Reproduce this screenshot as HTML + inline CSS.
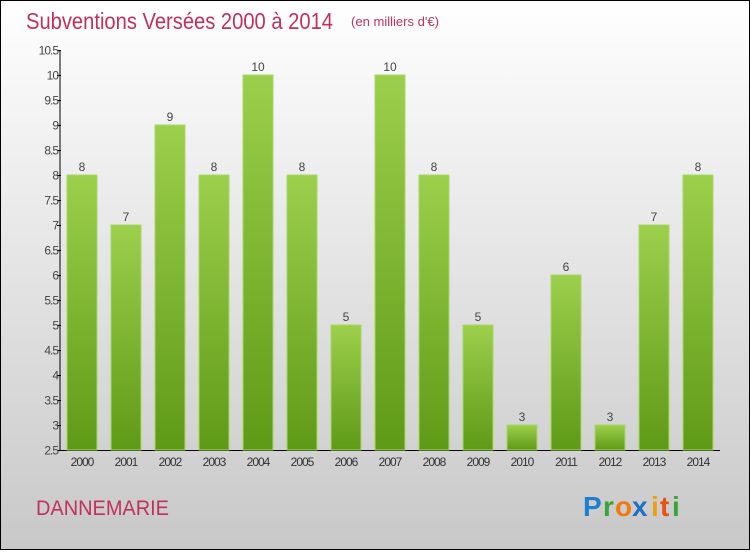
<!DOCTYPE html>
<html><head><meta charset="utf-8"><style>
html,body{margin:0;padding:0;}
body{width:750px;height:550px;overflow:hidden;font-family:"Liberation Sans",sans-serif;}
</style></head><body>
<svg id="chart" width="750" height="550" xmlns="http://www.w3.org/2000/svg">
<defs>
<linearGradient id="bg" x1="0" y1="0" x2="0" y2="1"><stop offset="0" stop-color="#ffffff"/><stop offset="1" stop-color="#c8c8c8"/></linearGradient>
<linearGradient id="bar" x1="0" y1="0" x2="0" y2="1"><stop offset="0" stop-color="#9ccf4c"/><stop offset="1" stop-color="#5f9a16"/></linearGradient>
</defs>
<rect x="0.5" y="0.5" width="749" height="549" fill="url(#bg)" stroke="#000" stroke-width="1"/>
<text x="26" y="29" font-size="23" fill="#c0315e" font-family="Liberation Sans,sans-serif" textLength="307" lengthAdjust="spacingAndGlyphs">Subventions Versées 2000 à 2014</text>
<text x="351" y="26" font-size="13" fill="#c0315e" textLength="88" lengthAdjust="spacingAndGlyphs">(en milliers d'€)</text>
<g id="axes"></g>
<g id="bars"></g>
<text x="36" y="515" font-size="21" fill="#c0315e" textLength="133" lengthAdjust="spacingAndGlyphs">DANNEMARIE</text>
<g font-size="28" font-weight="bold" font-family="Liberation Sans,sans-serif">
<text x="583" y="516" fill="#1e7fd0">P</text><text x="603" y="516" fill="#3aa33a">r</text><text x="615" y="516" fill="#f07a10">o</text><text x="632" y="516" fill="#1e6fc8">x</text><text x="651" y="516" fill="#e8a010">i</text><text x="660" y="516" fill="#e85010">t</text><text x="672" y="516" fill="#3aa33a">i</text>
</g>
</svg>
<script>
const categories=["2000","2001","2002","2003","2004","2005","2006","2007","2008","2009","2010","2011","2012","2013","2014"];
const values=[8,7,9,8,10,8,5,10,8,5,3,6,3,7,8];
const yTicks=["2.5","3","3.5","4","4.5","5","5.5","6","6.5","7","7.5","8","8.5","9","9.5","10","10.5"];
const NS="http://www.w3.org/2000/svg";
const yMin=2.5,yMax=10.5,plotTop=50,plotBottom=450;
function y(v){return plotBottom-(v-yMin)/(yMax-yMin)*(plotBottom-plotTop);}
function x(i){return 82+i*44;}
function mk(tag,attrs,parent){const e=document.createElementNS(NS,tag);for(const k in attrs)e.setAttribute(k,attrs[k]);parent.appendChild(e);return e;}
const ax=document.getElementById('axes'),bg=document.getElementById('bars');
let l=mk('line',{x1:60,y1:plotTop,x2:60,y2:plotBottom,stroke:'#000','stroke-width':1},ax);


l=mk('line',{x1:60,y1:plotBottom+0.5,x2:720,y2:plotBottom+0.5,stroke:'#000','stroke-width':1},ax);


yTicks.forEach(t=>{const v=parseFloat(t),yy=Math.round(y(v))+0.5;
 const tk=mk('line',{x1:57,y1:yy,x2:61,y2:yy,stroke:'#000'},ax);
 
 
 const tx=mk('text',{x:58,y:yy+4,'font-size':12,fill:'#444','text-anchor':'end','letter-spacing':'-1'},ax);tx.textContent=t;
 
 
});
categories.forEach((c,i)=>{const v=values[i],cx=x(i);
 const r=mk('rect',{x:cx-15,y:y(v),width:30,height:plotBottom-y(v),fill:'url(#bar)',stroke:'#a8d868','stroke-width':1},bg);
 
 
 const vl=mk('text',{x:cx,y:y(v)-4,'font-size':12,fill:'#444','text-anchor':'middle'},bg);vl.textContent=String(v);
 
 
 const xl=mk('text',{x:cx,y:466,'font-size':12,fill:'#333','text-anchor':'middle','letter-spacing':'-1'},bg);xl.textContent=c;
 
 
});
</script>
</body></html>
